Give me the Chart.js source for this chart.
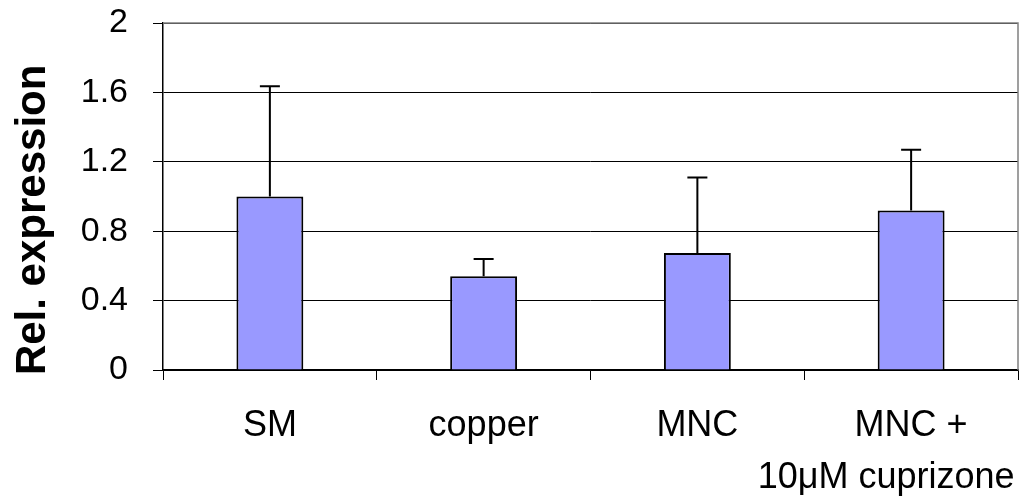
<!DOCTYPE html>
<html>
<head>
<meta charset="utf-8">
<script src="https://cdn.jsdelivr.net/npm/chart.js@4"></script>
<style>
  html, body { margin: 0; padding: 0; background: #fff; }
  #wrap { width: 1026px; height: 502px; }
</style>
</head>
<body>
<div id="wrap"><canvas id="chart"></canvas></div>
<script>
const nb = '\u00a0';
const categories = ['SM', 'copper', 'MNC', ['MNC +', '10\u03bcM cuprizone' + nb.repeat(5)]];
const values = [1.0, 0.54, 0.675, 0.92];
const errors = [0.635, 0.1, 0.435, 0.35];
const yTicks = [0, 0.4, 0.8, 1.2, 1.6, 2];
const yTitle = 'Rel. expression' + nb.repeat(4);

// error bars drawn on top of each bar, upper side only
const errorBars = {
    id: 'errorBars',
    afterDatasetsDraw(chart) {
        const ctx = chart.ctx;
        const y = chart.scales.y;
        const meta = chart.getDatasetMeta(0);
        ctx.save();
        ctx.strokeStyle = '#000';
        ctx.lineWidth = 2;
        meta.data.forEach((bar, i) => {
            const top = y.getPixelForValue(values[i] + errors[i]);
            const base = y.getPixelForValue(values[i]);
            ctx.beginPath();
            ctx.moveTo(bar.x, base);
            ctx.lineTo(bar.x, top);
            ctx.moveTo(bar.x - 10, top);
            ctx.lineTo(bar.x + 10, top);
            ctx.stroke();
        });
        ctx.restore();
    }
};

const frame = {
    id: 'frame',
    beforeDatasetsDraw(chart) {
        const a = chart.chartArea;
        const ctx = chart.ctx;
        ctx.save();
        ctx.strokeStyle = '#808080';
        ctx.lineWidth = 1.5;
        ctx.beginPath();
        ctx.moveTo(a.left, a.top);
        ctx.lineTo(a.right, a.top);
        ctx.lineTo(a.right, a.bottom);
        ctx.stroke();
        ctx.restore();
    }
};

new Chart(document.getElementById('chart'), {
    type: 'bar',
    data: {
        labels: categories,
        datasets: [{
            data: values,
            backgroundColor: '#9999ff',
            borderColor: '#000',
            borderWidth: 2,
            categoryPercentage: 1,
            barPercentage: 0.313
        }]
    },
    options: {
        responsive: true,
        maintainAspectRatio: false,
        animation: false,
        layout: { padding: { top: 23, right: 8 } },
        plugins: { legend: { display: false }, tooltip: { enabled: false } },
        scales: {
            x: {
                offset: true,
                grid: { offset: true, drawOnChartArea: false, color: '#000', tickLength: 10, lineWidth: 1 },
                border: { color: '#000', width: 1.5 },
                ticks: { color: '#000', font: { family: 'Liberation Sans, Arial', size: 36, lineHeight: 1.42 }, padding: 21, maxRotation: 0, autoSkip: false },
                afterFit(s) { s.height = 132; s.paddingLeft = 0; s.paddingRight = 0; }
            },
            y: {
                min: 0, max: 2,
                afterBuildTicks(s) { s.ticks = yTicks.map(v => ({ value: v })); },
                grid: { color: '#000', lineWidth: 1, tickLength: 10 },
                border: { color: '#000', width: 1.5 },
                ticks: { color: '#000', font: { family: 'Liberation Sans, Arial', size: 34 }, padding: 25, callback: v => String(v) },
                title: { display: true, text: yTitle, color: '#000', font: { family: 'Liberation Sans, Arial', size: 42, weight: 'bold' }, padding: { top: 8, bottom: 0 } },
                afterFit(s) { s.width = 163; s.paddingTop = 0; s.paddingBottom = 0; }
            }
        }
    },
    plugins: [frame, errorBars]
});
</script>
</body>
</html>
